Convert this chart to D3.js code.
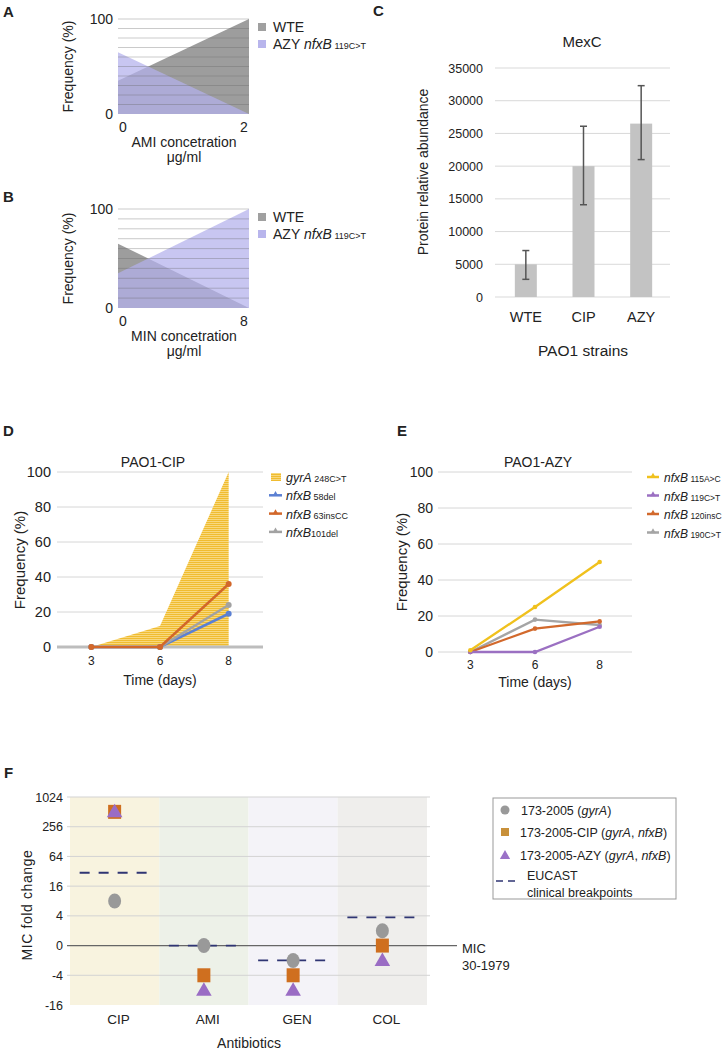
<!DOCTYPE html>
<html>
<head>
<meta charset="utf-8">
<script src="https://cdn.jsdelivr.net/npm/d3@7"></script>
<style>
  body { margin: 0; background: #fff; }
  text { font-family: Arial, "Liberation Sans", sans-serif; fill: #222; }
</style>
</head>
<body>
<svg id="fig" width="726" height="1054"></svg>
<script>
// ---- data ----
var concA = [0, 2], wteA = [35, 100], azyA = [65, 0];
var concB = [0, 8], wteB = [65, 0], azyB = [35, 100];

var strains = ["WTE", "CIP", "AZY"];
var mexc = [5000, 20000, 26500];
var mexcLo = [2700, 14100, 21000];
var mexcHi = [7100, 26100, 32300];

var days = ["3", "6", "8"];
var gyrA248 = [0, 12, 100];
var nfxB58 = [0, 0, 19];
var nfxB63 = [0, 0, 36];
var nfxB101 = [0, 0, 24];

var nfxB115 = [1, 25, 50];
var nfxB119 = [0, 0, 14];
var nfxB120 = [0, 13, 17];
var nfxB190 = [0, 18, 15];

var antibiotics = ["CIP", "AMI", "GEN", "COL"];
// fold change kept in log2 units
var foldTicks = [-4, -2, 0, 2, 4, 6, 8, 10];
var foldLabels = ["-16", "-4", "0", "4", "16", "64", "256", "1024"];
var mic173 = [3, 0, -1, 1];
var mic173cip = [9, -2, -2, 0];
var mic173azy = [9, -3, -3, -1];
var eucast = [4.9, 0, -1, 1.9];

var svg = d3.select("#fig");
var defs = svg.append("defs");

// hatch for gyrA area
var pat = defs.append("pattern").attr("id", "hatch")
  .attr("patternUnits", "userSpaceOnUse").attr("width", 4).attr("height", 2);
pat.append("rect").attr("width", 4).attr("height", 2).attr("fill", "#f9dc86");
pat.append("rect").attr("width", 4).attr("height", 1.1).attr("fill", "#f0bc30");

function panelLabel(t, x, y) {
  svg.append("text").attr("x", x).attr("y", y).attr("font-size", 15)
    .attr("font-weight", "bold").attr("fill", "#000").text(t);
}

function grid(g, y, vals, x1, x2, color) {
  g.append("g").selectAll("line").data(vals).join("line")
    .attr("x1", x1).attr("x2", x2)
    .attr("y1", d => y(d)).attr("y2", d => y(d))
    .attr("stroke", color).attr("stroke-width", 1);
}

function geneText(sel, pre, gene, suf, big, small) {
  if (pre) sel.append("tspan").attr("font-size", big).text(pre);
  sel.append("tspan").attr("font-size", big).attr("font-style", "italic").text(gene);
  sel.append("tspan").attr("font-size", small).text(suf);
}

// ---- A / B ----
function concPanel(top, bottom, conc, wte, azy, xlabel) {
  var g = svg.append("g");
  var x = d3.scaleLinear().domain(d3.extent(conc)).range([118, 249]);
  var y = d3.scaleLinear().domain([0, 100]).range([bottom, top]);
  var area = d3.area().x((d, i) => x(conc[i])).y0(y(0)).y1(d => y(d));
  g.append("path").attr("d", area(wte)).attr("fill", "#9d9d9d");
  g.append("path").attr("d", area(azy)).attr("fill", "#b3b0ec").attr("opacity", 0.72);
  g.append("g").selectAll("line").data(d3.range(10, 101, 10)).join("line")
    .attr("x1", 118).attr("x2", 249)
    .attr("y1", d => y(d)).attr("y2", d => y(d))
    .attr("stroke", "#666").attr("stroke-opacity", 0.35);

  var ax = g.append("g").attr("transform", "translate(118,0)")
    .call(d3.axisLeft(y).tickValues([0, 100]).tickSize(0).tickPadding(5));
  ax.select(".domain").remove();
  ax.selectAll("text").attr("font-size", 14).attr("fill", "#222");

  g.append("text").attr("x", x(conc[0]) + 5).attr("y", bottom + 18)
    .attr("text-anchor", "middle").attr("font-size", 14).text(conc[0]);
  g.append("text").attr("x", x(conc[1]) - 5).attr("y", bottom + 18)
    .attr("text-anchor", "middle").attr("font-size", 14).text(conc[1]);
  g.append("text").attr("x", 184).attr("y", bottom + 33)
    .attr("text-anchor", "middle").attr("font-size", 14).text(xlabel);
  g.append("text").attr("x", 184).attr("y", bottom + 48)
    .attr("text-anchor", "middle").attr("font-size", 14).text("μg/ml");
  g.append("text").attr("transform", "translate(73," + (top + bottom) / 2 + ") rotate(-90)")
    .attr("text-anchor", "middle").attr("font-size", 14).text("Frequency (%)");

  var leg = [["#a0a0a0", "WTE"], ["#b8b5ec", "AZY"]];
  leg.forEach(function (l, i) {
    var cy = top + 8 + i * 17;
    g.append("rect").attr("x", 258).attr("y", cy - 4).attr("width", 8).attr("height", 8).attr("fill", l[0]);
    var t = g.append("text").attr("x", 273).attr("y", cy + 5);
    if (i == 0) t.attr("font-size", 14).text(l[1]);
    else geneText(t, "AZY ", "nfxB", " 119C>T", 14, 9);
  });
}

panelLabel("A", 3, 17);
concPanel(19, 114, concA, wteA, azyA, "AMI concetration");
panelLabel("B", 3, 202);
concPanel(209, 308, concB, wteB, azyB, "MIN concetration");

// ---- C ----
(function () {
  var g = svg.append("g");
  var x = d3.scaleBand().domain(strains).range([497, 670]);
  var y = d3.scaleLinear().domain([0, 35000]).range([297, 68]);
  grid(g, y, d3.range(0, 35001, 5000), 495, 670, "#d9d9d9");
  var ax = g.append("g").attr("transform", "translate(495,0)")
    .call(d3.axisLeft(y).tickValues(d3.range(0, 35001, 5000)).tickFormat(d3.format("d")).tickSize(0).tickPadding(12));
  ax.select(".domain").remove();
  ax.selectAll("text").attr("font-size", 12.5).attr("fill", "#333");

  var cx = d => x(d) + x.bandwidth() / 2;
  g.selectAll("rect.bar").data(strains).join("rect")
    .attr("x", d => cx(d) - 11).attr("width", 22)
    .attr("y", (d, i) => y(mexc[i])).attr("height", (d, i) => y(0) - y(mexc[i]))
    .attr("fill", "#c3c3c3");
  var eb = g.append("g").attr("stroke", "#555").attr("stroke-width", 1.5);
  strains.forEach(function (s, i) {
    eb.append("line").attr("x1", cx(s)).attr("x2", cx(s)).attr("y1", y(mexcLo[i])).attr("y2", y(mexcHi[i]));
    eb.append("line").attr("x1", cx(s) - 3.5).attr("x2", cx(s) + 3.5).attr("y1", y(mexcLo[i])).attr("y2", y(mexcLo[i]));
    eb.append("line").attr("x1", cx(s) - 3.5).attr("x2", cx(s) + 3.5).attr("y1", y(mexcHi[i])).attr("y2", y(mexcHi[i]));
  });
  g.selectAll("text.cat").data(strains).join("text")
    .attr("x", cx).attr("y", 322).attr("text-anchor", "middle").attr("font-size", 14.5).text(d => d);
  g.append("text").attr("x", 582).attr("y", 47).attr("text-anchor", "middle").attr("font-size", 15).text("MexC");
  g.append("text").attr("x", 583).attr("y", 356).attr("text-anchor", "middle").attr("font-size", 15.5).text("PAO1 strains");
  g.append("text").attr("transform", "translate(428,172) rotate(-90)")
    .attr("text-anchor", "middle").attr("font-size", 14).text("Protein relative abundance");
})();
panelLabel("C", 373, 16);

// ---- D ----
(function () {
  var g = svg.append("g");
  var x = d3.scalePoint().domain(days).range([57, 263]).padding(0.5);
  var y = d3.scaleLinear().domain([0, 100]).range([647, 472]);
  grid(g, y, [20, 40, 60, 80, 100], 57, 263, "#d6d6d6");
  var area = d3.area().x((d, i) => x(days[i])).y0(y(0)).y1(d => y(d));
  g.append("path").attr("d", area(gyrA248)).attr("fill", "url(#hatch)");
  g.append("line").attr("x1", 57).attr("x2", 263).attr("y1", y(0)).attr("y2", y(0))
    .attr("stroke", "#bdbdbd").attr("stroke-width", 3);
  var line = d3.line().x((d, i) => x(days[i])).y(d => y(d));
  var ser = [[nfxB58, "#5b80d3"], [nfxB101, "#a2a2a2"], [nfxB63, "#d2672a"]];
  ser.forEach(function (s) {
    g.append("path").attr("d", line(s[0])).attr("fill", "none").attr("stroke", s[1]).attr("stroke-width", 2.5);
    g.selectAll(null).data(s[0]).join("circle")
      .attr("cx", (d, i) => x(days[i])).attr("cy", d => y(d)).attr("r", 3).attr("fill", s[1]);
  });
  var ax = g.append("g").attr("transform", "translate(57,0)")
    .call(d3.axisLeft(y).tickValues([0, 20, 40, 60, 80, 100]).tickSize(0).tickPadding(6));
  ax.select(".domain").remove();
  ax.selectAll("text").attr("font-size", 14.5).attr("fill", "#222");
  g.selectAll("text.day").data(days).join("text")
    .attr("x", d => x(d)).attr("y", 665).attr("text-anchor", "middle").attr("font-size", 12).text(d => d);
  g.append("text").attr("x", 160).attr("y", 685).attr("text-anchor", "middle").attr("font-size", 14).text("Time (days)");
  g.append("text").attr("x", 153).attr("y", 467).attr("text-anchor", "middle").attr("font-size", 14).text("PAO1-CIP");
  g.append("text").attr("transform", "translate(25,560) rotate(-90)")
    .attr("text-anchor", "middle").attr("font-size", 15).text("Frequency (%)");

  var leg = [["gyrA", " 248C>T", null], ["nfxB", " 58del", "#5b80d3"], ["nfxB", " 63insCC", "#d2672a"], ["nfxB", "101del", "#a2a2a2"]];
  leg.forEach(function (l, i) {
    var cy = 477 + i * 18.3;
    if (!l[2]) {
      g.append("rect").attr("x", 271).attr("y", cy - 4).attr("width", 10).attr("height", 8).attr("fill", "url(#hatch)");
    } else {
      g.append("line").attr("x1", 269).attr("x2", 282).attr("y1", cy).attr("y2", cy).attr("stroke", l[2]).attr("stroke-width", 2.5);
      g.append("path").attr("d", d3.symbol(d3.symbolTriangle, 14)()).attr("transform", "translate(275.5," + (cy - 1) + ")").attr("fill", l[2]);
    }
    geneText(g.append("text").attr("x", 286).attr("y", cy + 5), null, l[0], l[1], 12.5, 9);
  });
})();
panelLabel("D", 3, 436);

// ---- E ----
(function () {
  var g = svg.append("g");
  var x = d3.scalePoint().domain(days).range([438, 632]).padding(0.5);
  var y = d3.scaleLinear().domain([0, 100]).range([652, 472]);
  grid(g, y, [0, 20, 40, 60, 80, 100], 438, 632, "#d6d6d6");
  var line = d3.line().x((d, i) => x(days[i])).y(d => y(d));
  var ser = [[nfxB190, "#a5a5a5"], [nfxB120, "#d2692c"], [nfxB119, "#9b70c2"], [nfxB115, "#f0c11d"]];
  ser.forEach(function (s) {
    g.append("path").attr("d", line(s[0])).attr("fill", "none").attr("stroke", s[1]).attr("stroke-width", 2.3);
    g.selectAll(null).data(s[0]).join("circle")
      .attr("cx", (d, i) => x(days[i])).attr("cy", d => y(d)).attr("r", 2.3).attr("fill", s[1]);
  });
  var ax = g.append("g").attr("transform", "translate(438,0)")
    .call(d3.axisLeft(y).tickValues([0, 20, 40, 60, 80, 100]).tickSize(0).tickPadding(5));
  ax.select(".domain").remove();
  ax.selectAll("text").attr("font-size", 14).attr("fill", "#222");
  g.selectAll("text.day").data(days).join("text")
    .attr("x", d => x(d)).attr("y", 669).attr("text-anchor", "middle").attr("font-size", 12).text(d => d);
  g.append("text").attr("x", 535).attr("y", 687).attr("text-anchor", "middle").attr("font-size", 14).text("Time (days)");
  g.append("text").attr("x", 538).attr("y", 467).attr("text-anchor", "middle").attr("font-size", 14).text("PAO1-AZY");
  g.append("text").attr("transform", "translate(407,562) rotate(-90)")
    .attr("text-anchor", "middle").attr("font-size", 15).text("Frequency (%)");

  var leg = [[" 115A>C", "#f0c11d"], [" 119C>T", "#9b70c2"], [" 120insC", "#d2692c"], [" 190C>T", "#a5a5a5"]];
  leg.forEach(function (l, i) {
    var cy = 477 + i * 18.5;
    g.append("line").attr("x1", 647).attr("x2", 659).attr("y1", cy).attr("y2", cy).attr("stroke", l[1]).attr("stroke-width", 2.5);
    g.append("path").attr("d", d3.symbol(d3.symbolTriangle, 14)()).attr("transform", "translate(653," + (cy - 1) + ")").attr("fill", l[1]);
    geneText(g.append("text").attr("x", 664).attr("y", cy + 5), null, "nfxB", l[0], 12, 8.5);
  });
})();
panelLabel("E", 397, 436);

// ---- F ----
(function () {
  var g = svg.append("g");
  var x = d3.scaleBand().domain(antibiotics).range([70, 427]);
  var y = d3.scaleLinear().domain([-4, 10]).range([1005, 797]);
  var bg = ["#f8f3df", "#edf1e8", "#f4f3f8", "#efeeec"];
  g.selectAll("rect.bg").data(antibiotics).join("rect")
    .attr("x", d => x(d)).attr("width", x.bandwidth())
    .attr("y", y(10)).attr("height", y(-4) - y(10))
    .attr("fill", (d, i) => bg[i]);
  grid(g, y, foldTicks.filter(d => d != 0 && d != -4), 67, 430, "#d3d3d3");
  g.append("line").attr("x1", 67).attr("x2", 457).attr("y1", y(0)).attr("y2", y(0))
    .attr("stroke", "#666").attr("stroke-width", 1.2);

  var ax = g.append("g").attr("transform", "translate(67,0)")
    .call(d3.axisLeft(y).tickValues(foldTicks).tickFormat((d, i) => foldLabels[i]).tickSize(0).tickPadding(4));
  ax.select(".domain").remove();
  ax.selectAll("text").attr("font-size", 12.5).attr("fill", "#222");

  var cx = d => x(d) + x.bandwidth() / 2;
  antibiotics.forEach(function (a, i) {
    g.append("line").attr("x1", cx(a) - 35).attr("x2", cx(a) + 35)
      .attr("y1", y(eucast[i])).attr("y2", y(eucast[i]))
      .attr("stroke", "#2f3573").attr("stroke-width", 1.8).attr("stroke-dasharray", "10,9");
  });
  g.selectAll("ellipse.m").data(antibiotics).join("ellipse")
    .attr("cx", cx).attr("cy", (d, i) => y(mic173[i])).attr("rx", 6.5).attr("ry", 7.5).attr("fill", "#999");
  g.selectAll("rect.m").data(antibiotics).join("rect")
    .attr("x", d => cx(d) - 6.5).attr("y", (d, i) => y(mic173cip[i]) - 7)
    .attr("width", 13).attr("height", 14).attr("fill", "#cf6f1f");
  g.selectAll("path.m").data(antibiotics).join("path")
    .attr("d", d3.symbol(d3.symbolTriangle, 105)())
    .attr("transform", (d, i) => "translate(" + cx(d) + "," + (y(mic173azy[i]) + 1) + ")")
    .attr("fill", "#9a6cc4");

  g.selectAll("text.cat").data(antibiotics).join("text")
    .attr("x", d => cx(d) + 4).attr("y", 1024).attr("text-anchor", "middle").attr("font-size", 13.5).text(d => d);
  g.append("text").attr("x", 249).attr("y", 1048).attr("text-anchor", "middle").attr("font-size", 14).text("Antibiotics");
  g.append("text").attr("transform", "translate(32,905) rotate(-90)")
    .attr("text-anchor", "middle").attr("font-size", 14).attr("letter-spacing", 0.6).text("MIC fold change");
  g.append("text").attr("x", 462).attr("y", 953).attr("font-size", 13).text("MIC");
  g.append("text").attr("x", 462).attr("y", 970).attr("font-size", 13).text("30-1979");

  // legend
  g.append("rect").attr("x", 493).attr("y", 798).attr("width", 183).attr("height", 101)
    .attr("fill", "#fff").attr("stroke", "#999");
  g.append("circle").attr("cx", 505).attr("cy", 810).attr("r", 4.5).attr("fill", "#999");
  g.append("rect").attr("x", 501).attr("y", 828).attr("width", 8).attr("height", 8).attr("fill", "#c8903a");
  g.append("path").attr("d", d3.symbol(d3.symbolTriangle, 45)()).attr("transform", "translate(505,856)").attr("fill", "#9b72c8");
  g.append("line").attr("x1", 496).attr("x2", 516).attr("y1", 881).attr("y2", 881)
    .attr("stroke", "#2f3573").attr("stroke-width", 1.5).attr("stroke-dasharray", "7,5");
  var t1 = g.append("text").attr("x", 521).attr("y", 815).attr("font-size", 12.5);
  t1.append("tspan").text("173-2005 (");
  t1.append("tspan").attr("font-style", "italic").text("gyrA");
  t1.append("tspan").text(")");
  ["CIP", "AZY"].forEach(function (s, i) {
    var t = g.append("text").attr("x", 520).attr("y", 837 + i * 23).attr("font-size", 12.5);
    t.append("tspan").text("173-2005-" + s + " (");
    t.append("tspan").attr("font-style", "italic").text("gyrA");
    t.append("tspan").text(", ");
    t.append("tspan").attr("font-style", "italic").text("nfxB");
    t.append("tspan").text(")");
  });
  g.append("text").attr("x", 527).attr("y", 880).attr("font-size", 12.5).text("EUCAST");
  g.append("text").attr("x", 527).attr("y", 897).attr("font-size", 12.5).text("clinical breakpoints");
})();
panelLabel("F", 4, 778);
</script>
</body>
</html>
